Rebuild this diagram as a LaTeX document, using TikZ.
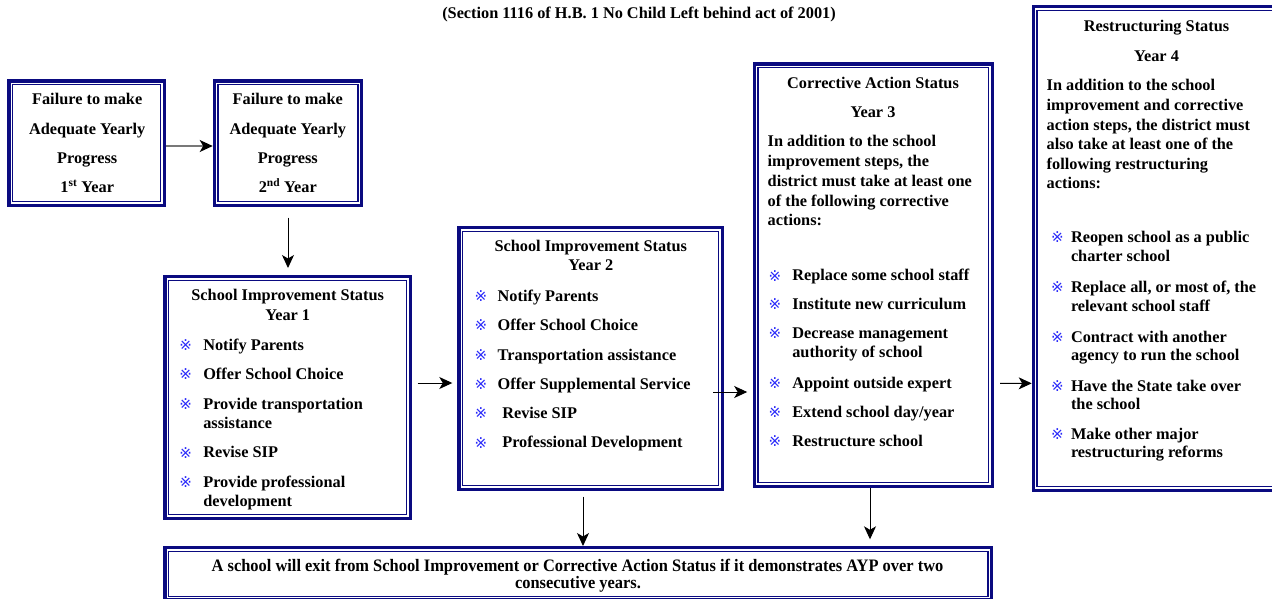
\documentclass[tikz,border=0pt]{standalone}
\usepackage{fontspec}
\usepackage{graphicx}
\setmainfont{Liberation Serif}
\newfontfamily\bulfont{DejaVu Sans}
\usetikzlibrary{arrows.meta}
\definecolor{navyc}{RGB}{10,10,128}
\definecolor{bulblue}{RGB}{40,40,250}
\definecolor{arrgray}{RGB}{120,120,120}
\newlength\bwid
\tikzset{
  box/.style={draw=navyc, line width=3.2pt, inner sep=0pt, fill=white,
    path picture={\draw[navyc, line width=1.4pt]
      ([shift={(3.65pt,-3.65pt)}]path picture bounding box.north west) rectangle
      ([shift={(-3.65pt,3.65pt)}]path picture bounding box.south east);}},
  txt/.style={font=\fontsize{16.3}{19.5}\selectfont\bfseries, inner sep=0pt, outer sep=0pt},
  bul/.style={font=\fontsize{15}{15}\selectfont\bulfont, text=bulblue, inner sep=0pt, anchor=center},
  arr/.style={draw=black, line width=1pt, -{Stealth[length=13pt,width=12pt,inset=3.5pt]}},
  arrg/.style={draw=arrgray, line width=1.2pt, -{Stealth[length=13pt,width=12pt,inset=3.5pt,color=black]}}
}
\newcommand\LT[4]{\node[txt,anchor=base west] (#1) at (#2,#3) {#4};}
\newcommand\CT[4]{\node[txt,anchor=base] (#1) at (#2,#3) {#4};}
\newcommand\BL[5]{\node[bul] (#1) at ({#2+5},{#3-4.8}) {※};\node[txt,anchor=base west] (#1t) at (#4,#3) {#5};}
\newcommand\botfont{\fontsize{17.5}{20}\selectfont\bfseries}
\newcommand\botline{A school will exit from School Improvement or Corrective Action Status if it demonstrates AYP over two}
\begin{document}
\settowidth{\bwid}{\botfont\botline}%
\pgfmathsetmacro\bsx{731.6/\bwid}%
\begin{tikzpicture}[x=1pt,y=-1pt]
\useasboundingbox (0,0) rectangle (1272,598);
\clip (0,0) rectangle (1272,598);
\fill[white] (0,0) rectangle (1272,598);

% boxes
\node[box, minimum width=155.5pt, minimum height=124.2pt] (b1) at (86.65,143) {};
\node[box, minimum width=147.4pt, minimum height=124.2pt] (b2) at (288,143) {};
\node[box, minimum width=245.2pt, minimum height=241.8pt] (si1) at (287.5,397.5) {};
\node[box, minimum width=263.5pt, minimum height=261.5pt] (si2) at (590.65,358.35) {};
\node[box, minimum width=238.1pt, minimum height=422.2pt] (ca) at (873.35,275) {};
\node[box, minimum width=246.4pt, minimum height=483.5pt] (rs) at (1156.5,248.35) {};
\node[box, minimum width=826.8pt, minimum height=52.3pt] (bot) at (578.3,573.75) {};

% title
\CT{title}{639}{18.3}{(Section 1116 of H.B. 1 No Child Left behind act of 2001)}

% box 1 and 2
\CT{b1a}{87.2}{104}{Failure to make}
\CT{b1b}{87.2}{134}{Adequate Yearly}
\CT{b1c}{87.2}{163.3}{Progress}
\CT{b1d}{87.2}{192.7}{1\textsuperscript{st} Year}
\CT{b2a}{287.8}{104}{Failure to make}
\CT{b2b}{287.8}{134}{Adequate Yearly}
\CT{b2c}{287.8}{163.3}{Progress}
\CT{b2d}{287.8}{192.7}{2\textsuperscript{nd} Year}

% SI1
\CT{s1a}{287.7}{300.7}{School Improvement Status}
\CT{s1b}{287.7}{320}{Year 1}
\BL{s1u1}{180.7}{350}{203.3}{Notify Parents}
\BL{s1u2}{180.7}{379.3}{203.3}{Offer School Choice}
\BL{s1u3}{180.7}{409.3}{203.3}{Provide transportation}
\LT{s1u3b}{203.3}{428.3}{assistance}
\BL{s1u4}{180.7}{457.7}{203.3}{Revise SIP}
\BL{s1u5}{180.7}{487.3}{203.3}{Provide professional}
\LT{s1u5b}{203.3}{506}{development}

% SI2
\CT{s2a}{590.8}{251.7}{School Improvement Status}
\CT{s2b}{590.8}{270.7}{Year 2}
\BL{s2u1}{476}{301}{497.7}{Notify Parents}
\BL{s2u2}{476}{330}{497.7}{Offer School Choice}
\BL{s2u3}{476}{360}{497.7}{Transportation assistance}
\BL{s2u4}{476}{389}{497.7}{Offer Supplemental Service}
\BL{s2u5}{476}{418.3}{502.3}{Revise SIP}
\BL{s2u6}{476}{447.7}{502.3}{Professional Development}

% CA
\CT{caa}{873}{88.3}{Corrective Action Status}
\CT{cab}{873}{117.3}{Year 3}
\LT{cap1}{767.7}{146.7}{In addition to the school}
\LT{cap2}{767.7}{166}{improvement steps, the}
\LT{cap3}{767.7}{186}{district must take at least one}
\LT{cap4}{767.7}{206}{of the following corrective}
\LT{cap5}{767.7}{225}{actions:}
\BL{cau1}{770}{280.7}{792.3}{Replace some school staff}
\BL{cau2}{770}{309.3}{792.3}{Institute new curriculum}
\BL{cau3}{770}{338.3}{792.3}{Decrease management}
\LT{cau3b}{792.3}{357.7}{authority of school}
\BL{cau4}{770}{388.3}{792.3}{Appoint outside expert}
\BL{cau5}{770}{417.3}{792.3}{Extend school day/year}
\BL{cau6}{770}{446}{792.3}{Restructure school}

% RS
\CT{rsa}{1156.5}{31.7}{Restructuring Status}
\CT{rsb}{1156.5}{61.7}{Year 4}
\LT{rsp1}{1046.7}{90.7}{In addition to the school}
\LT{rsp2}{1046.7}{110}{improvement and corrective}
\LT{rsp3}{1046.7}{130}{action steps, the district must}
\LT{rsp4}{1046.7}{149.3}{also take at least one of the}
\LT{rsp5}{1046.7}{169}{following restructuring}
\LT{rsp6}{1046.7}{188.3}{actions:}
\BL{rsu1}{1052.3}{242.3}{1071}{Reopen school as a public}
\LT{rsu1b}{1071}{261.7}{charter school}
\BL{rsu2}{1052.3}{292.3}{1071}{Replace all, or most of, the}
\LT{rsu2b}{1071}{311}{relevant school staff}
\BL{rsu3}{1052.3}{342.3}{1071}{Contract with another}
\LT{rsu3b}{1071}{360.7}{agency to run the school}
\BL{rsu4}{1052.3}{391}{1071}{Have the State take over}
\LT{rsu4b}{1071}{409.3}{the school}
\BL{rsu5}{1052.3}{439.3}{1071}{Make other major}
\LT{rsu5b}{1071}{457.7}{restructuring reforms}

% bottom
\node[txt, font=\botfont, anchor=base] (bt1) at (577.5,571)
  {\scalebox{\bsx}[1]{\botline}};
\node[txt, font=\botfont, anchor=base] (bt2) at (578,588.5)
  {\scalebox{\bsx}[1]{consecutive years.}};

% arrows
\draw[arrg] ([yshift=-3pt]b1.east) -- ([yshift=-3pt]b2.west);
\draw[arr] ([yshift=-11pt]b2.south) -- ([xshift=0.5pt,yshift=7pt]si1.north);
\draw[arr] ([xshift=6pt,yshift=14.5pt]si1.east) -- ([xshift=-5pt,yshift=-24.65pt]si2.west);
\draw[arr] ([xshift=-11pt,yshift=-33.65pt]si2.east) -- ([xshift=-5.5pt,yshift=-117pt]ca.west);
\draw[arr] ([xshift=6pt,yshift=-108.3pt]ca.east) -- ([yshift=-135pt]rs.west);
\draw[arr] ([xshift=-7.65pt,yshift=-6pt]si2.south) -- ([xshift=4.7pt]bot.north);
\draw[arr] ([xshift=-3.35pt]ca.south) -- ([xshift=291.7pt,yshift=6.7pt]bot.north);
\end{tikzpicture}
\end{document}
